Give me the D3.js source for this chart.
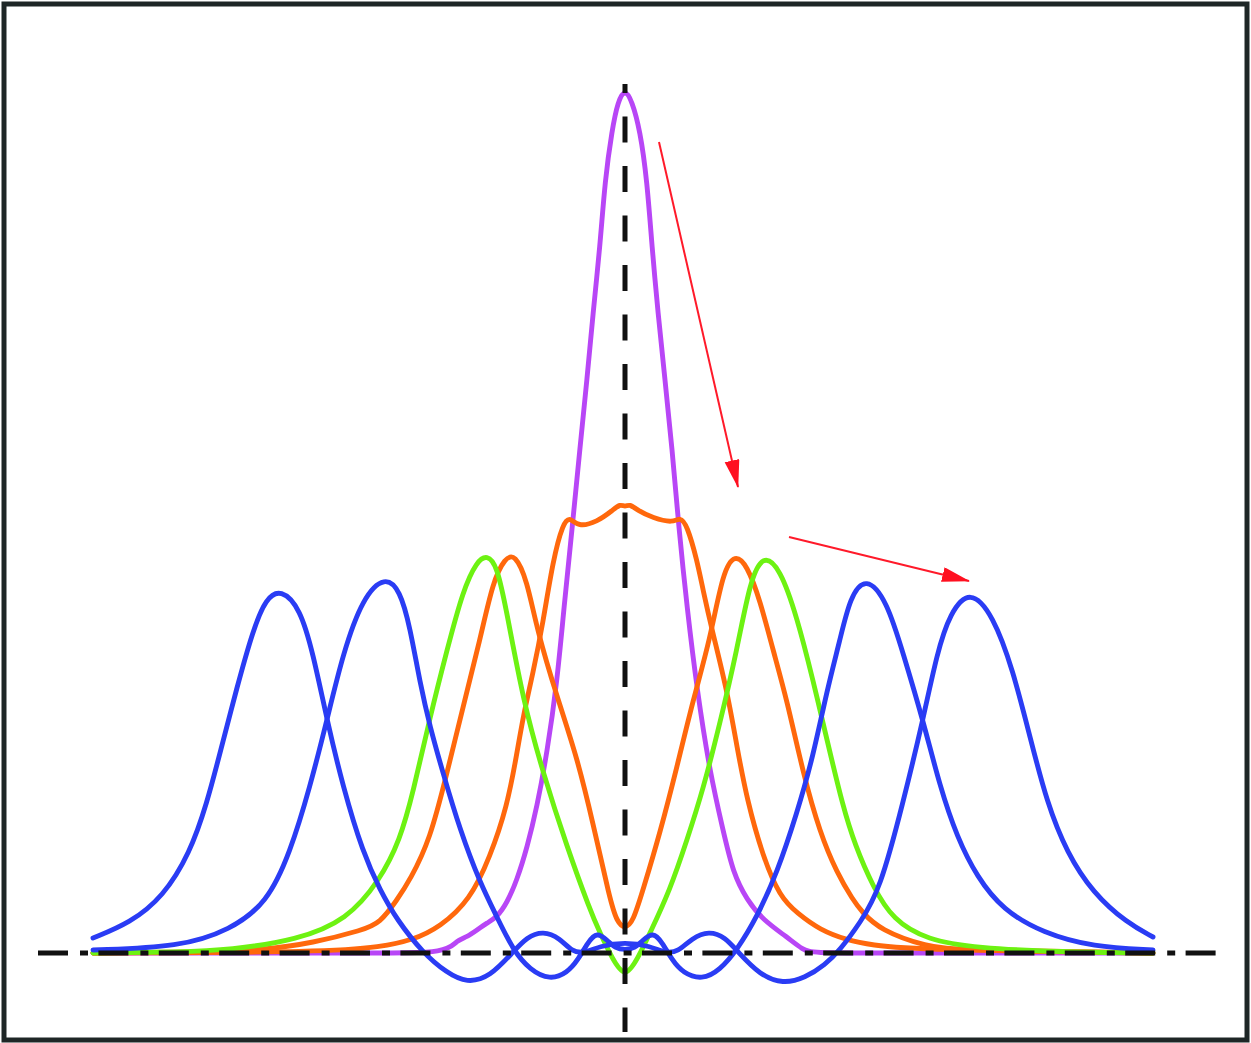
<!DOCTYPE html>
<html><head><meta charset="utf-8">
<script src="https://cdn.jsdelivr.net/npm/d3@7"></script>
<style>html,body{margin:0;padding:0;background:#fff;} svg{display:block;}</style>
</head><body><svg id="c" width="1251" height="1043"></svg>
<script>
// position (a.u.) , intensity (a.u.)
const purpleCurve = [[-5.32,0],[-2.45,0],[-1.78,0.00],[-1.68,0.13],[-1.58,0.16],[-1.48,0.23],[-1.38,0.30],[-1.28,0.36],[-1.18,0.50],[-1.08,0.73],[-0.98,1.05],[-0.88,1.46],[-0.78,2.00],[-0.68,2.70],[-0.61,3.46],[-0.53,4.23],[-0.45,5.06],[-0.38,5.73],[-0.32,6.40],[-0.25,7.06],[-0.20,7.73],[-0.13,8.23],[-0.07,8.52],[0,8.64],[0.07,8.52],[0.15,8.23],[0.22,7.73],[0.27,7.06],[0.33,6.40],[0.40,5.73],[0.47,5.06],[0.54,4.23],[0.62,3.46],[0.72,2.63],[0.85,1.80],[0.98,1.23],[1.08,0.80],[1.22,0.53],[1.38,0.33],[1.62,0.16],[1.78,0.03],[1.88,0],[2.45,0],[5.28,0]];
const orangePlateau = [[-5.32,0],[-2.95,0.01],[-2.45,0.06],[-2.12,0.13],[-1.85,0.26],[-1.55,0.53],[-1.35,0.96],[-1.18,1.46],[-1.08,2.00],[-1.02,2.36],[-0.92,2.80],[-0.82,3.30],[-0.72,3.93],[-0.62,4.30],[-0.55,4.36],[-0.47,4.26],[-0.28,4.31],[-0.12,4.43],[-0.05,4.49],[0,4.46],[0.05,4.49],[0.12,4.43],[0.28,4.35],[0.48,4.30],[0.55,4.36],[0.62,4.28],[0.72,3.93],[0.78,3.63],[0.87,3.23],[1.02,2.63],[1.12,2.06],[1.22,1.53],[1.38,0.96],[1.55,0.56],[1.72,0.40],[1.95,0.23],[2.22,0.13],[2.45,0.08],[2.95,0.03],[5.28,0]];
const orangeSplit = [[-5.32,0],[-4.25,0.01],[-3.62,0.03],[-3.12,0.10],[-2.62,0.23],[-2.45,0.30],[-2.28,0.53],[-2.15,0.73],[-1.95,1.13],[-1.78,1.80],[-1.62,2.46],[-1.45,3.13],[-1.32,3.72],[-1.20,3.95],[-1.10,3.99],[-0.98,3.73],[-0.88,3.23],[-0.68,2.56],[-0.48,1.96],[-0.32,1.30],[-0.15,0.53],[-0.08,0.31],[0,0.24],[0.08,0.31],[0.18,0.63],[0.35,1.20],[0.52,1.86],[0.68,2.53],[0.85,3.13],[0.98,3.82],[1.10,3.99],[1.22,3.88],[1.35,3.53],[1.48,3.03],[1.62,2.53],[1.78,1.80],[1.95,1.20],[2.12,0.80],[2.28,0.53],[2.37,0.41],[2.55,0.23],[3.02,0.06],[3.35,0.03],[5.28,0]];
const greenCurve = [[-5.32,0],[-4.45,0.01],[-3.95,0.03],[-3.28,0.13],[-2.78,0.33],[-2.45,0.73],[-2.25,1.13],[-2.12,1.60],[-1.95,2.36],[-1.78,3.03],[-1.62,3.63],[-1.48,3.92],[-1.38,3.98],[-1.28,3.88],[-1.18,3.40],[-1.02,2.53],[-0.82,1.80],[-0.58,1.06],[-0.35,0.43],[-0.25,0.20],[-0.13,-0.05],[0,-0.26],[0.13,-0.05],[0.25,0.20],[0.45,0.63],[0.62,1.13],[0.78,1.63],[0.95,2.30],[1.12,3.03],[1.25,3.72],[1.38,3.99],[1.55,3.85],[1.72,3.36],[1.88,2.73],[2.02,2.13],[2.18,1.46],[2.30,1.08],[2.48,0.66],[2.68,0.33],[3.02,0.13],[3.52,0.05],[4.35,0.01],[5.28,0]];
const blueOuter = [[-5.32,0.15],[-4.95,0.30],[-4.62,0.56],[-4.35,1.00],[-4.18,1.50],[-4.05,2.00],[-3.88,2.66],[-3.72,3.23],[-3.59,3.55],[-3.44,3.64],[-3.25,3.45],[-3.12,3.00],[-2.98,2.33],[-2.82,1.66],[-2.62,1.00],[-2.45,0.63],[-2.28,0.33],[-2.02,0],[-1.78,-0.20],[-1.58,-0.30],[-1.35,-0.24],[-1.12,0.01],[-0.98,0.16],[-0.82,0.22],[-0.65,0.15],[-0.53,0.01],[-0.40,0],[-0.25,0.07],[0,0.11],[0.25,0.07],[0.40,0],[0.53,0.01],[0.67,0.15],[0.84,0.22],[1.00,0.16],[1.13,0.01],[1.35,-0.22],[1.58,-0.31],[1.80,-0.25],[2.00,-0.12],[2.15,0.03],[2.35,0.30],[2.55,0.63],[2.78,1.50],[2.98,2.33],[3.12,3.00],[3.25,3.40],[3.45,3.64],[3.68,3.38],[3.88,2.83],[4.05,2.16],[4.22,1.50],[4.42,1.00],[4.68,0.60],[5.02,0.30],[5.28,0.16]];
const blueInner = [[-5.32,0.03],[-4.45,0.06],[-3.95,0.23],[-3.58,0.50],[-3.35,1.00],[-3.15,1.66],[-2.98,2.33],[-2.82,3.00],[-2.62,3.56],[-2.40,3.77],[-2.25,3.63],[-2.15,3.26],[-2.05,2.70],[-1.95,2.26],[-1.82,1.80],[-1.65,1.23],[-1.45,0.70],[-1.28,0.36],[-1.12,0.03],[-0.95,-0.17],[-0.75,-0.27],[-0.58,-0.20],[-0.47,-0.07],[-0.37,0.11],[-0.28,0.21],[-0.18,0.13],[-0.10,0.05],[0,0.03],[0.10,0.05],[0.18,0.13],[0.28,0.21],[0.37,0.11],[0.47,-0.07],[0.58,-0.20],[0.77,-0.27],[0.95,-0.17],[1.12,0.03],[1.32,0.36],[1.52,0.80],[1.72,1.40],[1.88,1.96],[2.02,2.63],[2.15,3.13],[2.25,3.56],[2.41,3.77],[2.62,3.52],[2.78,3.00],[2.98,2.33],[3.15,1.66],[3.32,1.16],[3.52,0.76],[3.78,0.43],[4.18,0.20],[4.68,0.06],[5.28,0.03]];
const arrows = [{from:[0.34,8.11], to:[1.13,4.66]}, {from:[1.64,4.16], to:[3.44,3.72]}];

const series = [
  {data: purpleCurve, color: "#b846f6"},
  {data: orangePlateau, color: "#ff680c"},
  {data: orangeSplit, color: "#ff680c"},
  {data: greenCurve, color: "#6df212"},
  {data: blueOuter, color: "#2a3cf4"},
  {data: blueInner, color: "#2a3cf4"}
];

const W = 1251, H = 1043;
const svg = d3.select("#c");
const x = d3.scaleLinear().domain([-6.25, 6.26]).range([0, W]);
const y = d3.scaleLinear().domain([0, 8.61]).range([953, 92]);

svg.append("rect").attr("width", W).attr("height", H).attr("fill", "#fff");

const defs = svg.append("defs");
defs.append("marker").attr("id", "ah").attr("markerUnits", "userSpaceOnUse")
  .attr("markerWidth", 28).attr("markerHeight", 16).attr("refX", 27).attr("refY", 7.5)
  .attr("orient", "auto")
  .append("path").attr("d", "M0,0 L28,7.5 L0,15 Z").attr("fill", "#ff1020");

const line = d3.line().x(d => x(d[0])).y(d => y(d[1])).curve(d3.curveBasis);

svg.append("g").selectAll("path").data(series).join("path")
  .attr("d", d => line(d.data)).attr("fill", "none")
  .attr("stroke", d => d.color).attr("stroke-width", 4.9)
  .attr("stroke-linejoin", "round").attr("stroke-linecap", "round");

svg.append("g").selectAll("line").data(arrows).join("line")
  .attr("x1", d => x(d.from[0])).attr("y1", d => y(d.from[1]))
  .attr("x2", d => x(d.to[0])).attr("y2", d => y(d.to[1]))
  .attr("stroke", "#ff1a2a").attr("stroke-width", 2).attr("marker-end", "url(#ah)");

// zero-position dashed line and zero-intensity dash-dot line
svg.append("line").attr("x1", x(0)).attr("x2", x(0)).attr("y1", 84).attr("y2", 1032)
  .attr("stroke", "#111").attr("stroke-width", 5)
  .attr("stroke-dasharray", "26,23.5").attr("stroke-dashoffset", 17);
svg.append("line").attr("x1", 38).attr("x2", 1217).attr("y1", y(0)).attr("y2", y(0))
  .attr("stroke", "#111").attr("stroke-width", 5)
  .attr("stroke-dasharray", "30,12,8,10.4");

svg.append("rect").attr("x", 4).attr("y", 4).attr("width", 1243).attr("height", 1036)
  .attr("fill", "none").attr("stroke", "#1e2626").attr("stroke-width", 5);
</script></body></html>
